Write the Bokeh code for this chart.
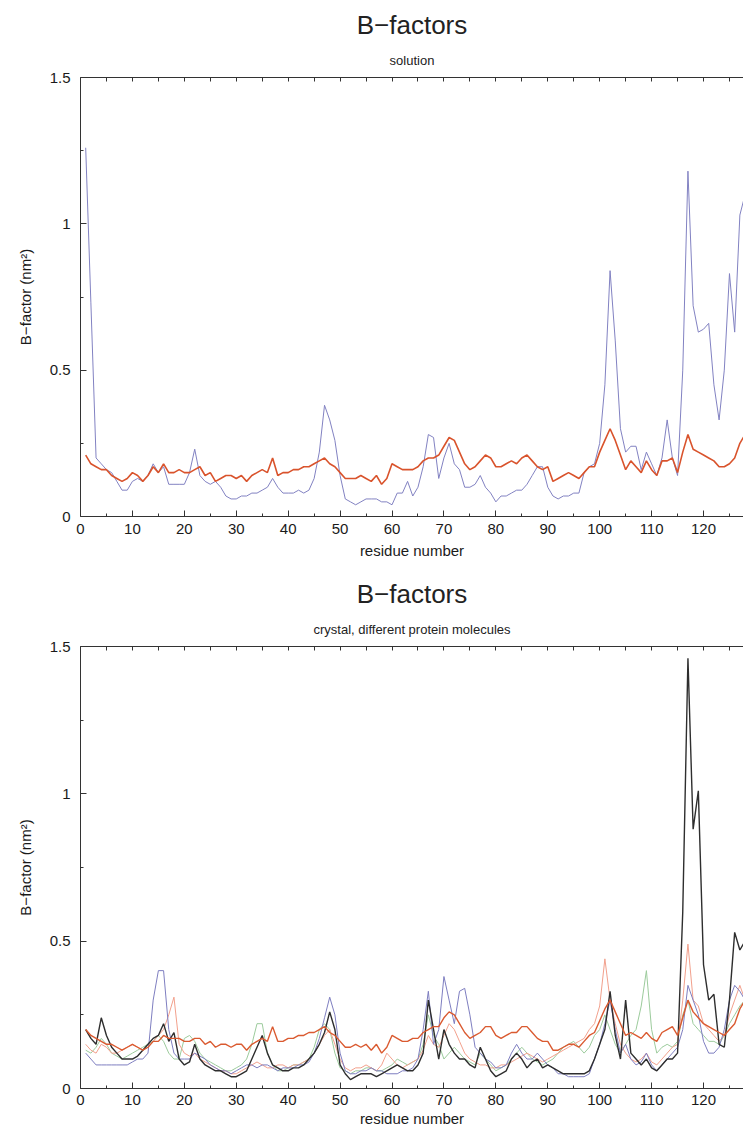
from bokeh.plotting import figure
from bokeh.layouts import column
from bokeh.models import LinearAxis, FixedTicker, Title, Range1d
from bokeh.embed import file_html
from bokeh.resources import INLINE

residues = list(range(1, 129))

# ---- solution ----
solution_blue = [
    1.26, 0.73, 0.20, 0.18, 0.16, 0.15, 0.12, 0.09, 0.09, 0.12,
    0.13, 0.12, 0.14, 0.18, 0.15, 0.17, 0.11, 0.11, 0.11, 0.11,
    0.15, 0.23, 0.14, 0.12, 0.11, 0.12, 0.10, 0.07, 0.06, 0.06,
    0.07, 0.07, 0.08, 0.08, 0.09, 0.10, 0.13, 0.10, 0.08, 0.08,
    0.08, 0.09, 0.08, 0.09, 0.13, 0.22, 0.38, 0.33, 0.26, 0.14,
    0.06, 0.05, 0.04, 0.05, 0.06, 0.06, 0.06, 0.05, 0.05, 0.04,
    0.08, 0.08, 0.12, 0.07, 0.10, 0.17, 0.28, 0.27, 0.13, 0.20,
    0.25, 0.18, 0.16, 0.10, 0.10, 0.11, 0.14, 0.10, 0.08, 0.05,
    0.07, 0.07, 0.08, 0.09, 0.09, 0.11, 0.14, 0.17, 0.17, 0.10,
    0.07, 0.06, 0.07, 0.07, 0.08, 0.08, 0.15, 0.17, 0.18, 0.25,
    0.45, 0.84, 0.60, 0.30, 0.22, 0.24, 0.24, 0.16, 0.22, 0.18,
    0.14, 0.20, 0.33, 0.20, 0.14, 0.50, 1.18, 0.72, 0.63, 0.64,
    0.66, 0.45, 0.33, 0.50, 0.83, 0.63, 1.03, 1.10]

solution_red = [
    0.21, 0.18, 0.17, 0.16, 0.16, 0.14, 0.13, 0.12, 0.13, 0.15,
    0.14, 0.12, 0.14, 0.17, 0.15, 0.18, 0.15, 0.15, 0.16, 0.15,
    0.15, 0.16, 0.17, 0.14, 0.15, 0.12, 0.13, 0.14, 0.14, 0.13,
    0.14, 0.12, 0.14, 0.15, 0.16, 0.15, 0.20, 0.14, 0.15, 0.15,
    0.16, 0.16, 0.17, 0.17, 0.18, 0.19, 0.20, 0.18, 0.17, 0.15,
    0.13, 0.13, 0.13, 0.14, 0.13, 0.12, 0.14, 0.11, 0.13, 0.18,
    0.17, 0.16, 0.16, 0.16, 0.17, 0.19, 0.20, 0.20, 0.21, 0.24,
    0.27, 0.26, 0.22, 0.18, 0.16, 0.17, 0.19, 0.21, 0.20, 0.17,
    0.17, 0.18, 0.19, 0.18, 0.20, 0.21, 0.19, 0.17, 0.16, 0.17,
    0.12, 0.13, 0.14, 0.15, 0.14, 0.13, 0.15, 0.17, 0.17, 0.22,
    0.26, 0.30, 0.26, 0.21, 0.16, 0.19, 0.17, 0.15, 0.19, 0.16,
    0.14, 0.19, 0.19, 0.20, 0.15, 0.22, 0.28, 0.23, 0.22, 0.21,
    0.20, 0.19, 0.17, 0.17, 0.18, 0.20, 0.25, 0.28]

# ---- crystal, different protein molecules ----
crystal_black = [
    0.20, 0.17, 0.15, 0.24, 0.18, 0.14, 0.12, 0.10, 0.10, 0.10,
    0.11, 0.13, 0.15, 0.17, 0.18, 0.22, 0.16, 0.19, 0.10, 0.08,
    0.09, 0.15, 0.10, 0.08, 0.07, 0.06, 0.06, 0.05, 0.04, 0.04,
    0.05, 0.06, 0.10, 0.14, 0.18, 0.12, 0.08, 0.07, 0.06, 0.06,
    0.07, 0.07, 0.08, 0.10, 0.12, 0.15, 0.19, 0.26, 0.20, 0.08,
    0.05, 0.03, 0.04, 0.05, 0.05, 0.05, 0.04, 0.05, 0.06, 0.07,
    0.08, 0.07, 0.06, 0.06, 0.08, 0.12, 0.30, 0.20, 0.10, 0.20,
    0.15, 0.12, 0.10, 0.10, 0.08, 0.07, 0.14, 0.10, 0.06, 0.04,
    0.05, 0.06, 0.10, 0.12, 0.10, 0.07, 0.09, 0.10, 0.07, 0.08,
    0.07, 0.06, 0.05, 0.05, 0.05, 0.05, 0.05, 0.06, 0.10, 0.15,
    0.20, 0.33, 0.18, 0.10, 0.30, 0.12, 0.10, 0.08, 0.10, 0.07,
    0.06, 0.08, 0.10, 0.10, 0.12, 0.60, 1.46, 0.88, 1.01, 0.42,
    0.30, 0.32, 0.15, 0.14, 0.30, 0.53, 0.47, 0.50]

crystal_blue = [
    0.12, 0.10, 0.08, 0.08, 0.08, 0.08, 0.08, 0.08, 0.08, 0.09,
    0.10, 0.10, 0.12, 0.30, 0.40, 0.40, 0.20, 0.12, 0.10, 0.10,
    0.10, 0.12, 0.11, 0.10, 0.08, 0.07, 0.06, 0.06, 0.05, 0.06,
    0.07, 0.08, 0.08, 0.07, 0.08, 0.08, 0.07, 0.06, 0.07, 0.07,
    0.07, 0.08, 0.08, 0.09, 0.12, 0.17, 0.24, 0.31, 0.25, 0.12,
    0.06, 0.05, 0.05, 0.06, 0.06, 0.07, 0.06, 0.06, 0.05, 0.05,
    0.05, 0.06, 0.06, 0.07, 0.10, 0.20, 0.33, 0.15, 0.20, 0.38,
    0.30, 0.22, 0.33, 0.34, 0.25, 0.14, 0.12, 0.10, 0.09, 0.07,
    0.07, 0.08, 0.12, 0.15, 0.12, 0.10, 0.10, 0.12, 0.10, 0.08,
    0.07, 0.05, 0.05, 0.04, 0.04, 0.04, 0.04, 0.05, 0.10, 0.15,
    0.22, 0.30, 0.20, 0.12, 0.15, 0.10, 0.08, 0.09, 0.12, 0.08,
    0.06, 0.08, 0.10, 0.12, 0.14, 0.20, 0.35, 0.30, 0.25, 0.16,
    0.12, 0.12, 0.14, 0.20, 0.30, 0.35, 0.33, 0.30]

crystal_salmon = [
    0.15, 0.13, 0.12, 0.15, 0.14, 0.12, 0.12, 0.13, 0.14, 0.15,
    0.14, 0.13, 0.14, 0.16, 0.18, 0.20, 0.25, 0.31, 0.15, 0.12,
    0.11, 0.12, 0.10, 0.09, 0.08, 0.07, 0.06, 0.06, 0.05, 0.05,
    0.06, 0.07, 0.08, 0.09, 0.08, 0.07, 0.07, 0.08, 0.08, 0.07,
    0.08, 0.08, 0.09, 0.10, 0.12, 0.15, 0.18, 0.20, 0.15, 0.10,
    0.07, 0.06, 0.07, 0.07, 0.08, 0.07, 0.06, 0.08, 0.12, 0.10,
    0.08, 0.07, 0.08, 0.09, 0.10, 0.13, 0.18, 0.15, 0.14, 0.18,
    0.22, 0.20, 0.16, 0.12, 0.10, 0.09, 0.08, 0.08, 0.07, 0.07,
    0.08, 0.08, 0.09, 0.10, 0.11, 0.12, 0.11, 0.10, 0.09, 0.10,
    0.11, 0.12, 0.13, 0.14, 0.15, 0.16, 0.17, 0.20, 0.22, 0.28,
    0.44, 0.30, 0.22, 0.15, 0.12, 0.10, 0.09, 0.10, 0.12, 0.09,
    0.08, 0.10, 0.12, 0.14, 0.15, 0.30, 0.49, 0.30, 0.28, 0.22,
    0.20, 0.18, 0.16, 0.18, 0.25, 0.30, 0.35, 0.30]

crystal_green = [
    0.13, 0.12, 0.14, 0.17, 0.15, 0.12, 0.11, 0.10, 0.11, 0.12,
    0.13, 0.14, 0.15, 0.16, 0.18, 0.16, 0.12, 0.10, 0.10, 0.17,
    0.18, 0.16, 0.12, 0.10, 0.09, 0.08, 0.07, 0.06, 0.06, 0.07,
    0.08, 0.10, 0.15, 0.22, 0.22, 0.12, 0.08, 0.06, 0.06, 0.07,
    0.08, 0.08, 0.09, 0.10, 0.14, 0.20, 0.22, 0.20, 0.12, 0.07,
    0.06, 0.05, 0.06, 0.06, 0.07, 0.07, 0.06, 0.06, 0.07, 0.08,
    0.10, 0.09, 0.08, 0.09, 0.10, 0.15, 0.25, 0.18, 0.15, 0.10,
    0.12, 0.14, 0.12, 0.10, 0.09, 0.08, 0.12, 0.10, 0.08, 0.06,
    0.07, 0.08, 0.10, 0.12, 0.14, 0.12, 0.10, 0.09, 0.08, 0.09,
    0.10, 0.12, 0.14, 0.15, 0.16, 0.14, 0.12, 0.14, 0.18, 0.20,
    0.25, 0.20, 0.15, 0.12, 0.15, 0.18, 0.20, 0.28, 0.40, 0.20,
    0.12, 0.14, 0.15, 0.14, 0.16, 0.25, 0.30, 0.22, 0.20, 0.18,
    0.16, 0.16, 0.15, 0.18, 0.22, 0.25, 0.28, 0.30]

crystal_red = [
    0.20, 0.18, 0.17, 0.16, 0.15, 0.15, 0.14, 0.13, 0.14, 0.15,
    0.14, 0.13, 0.14, 0.16, 0.16, 0.18, 0.17, 0.17, 0.17, 0.16,
    0.16, 0.17, 0.17, 0.15, 0.16, 0.14, 0.15, 0.15, 0.14, 0.15,
    0.15, 0.13, 0.15, 0.16, 0.17, 0.16, 0.21, 0.16, 0.16, 0.17,
    0.17, 0.18, 0.18, 0.19, 0.19, 0.20, 0.21, 0.19, 0.18, 0.16,
    0.14, 0.14, 0.15, 0.14, 0.15, 0.13, 0.15, 0.12, 0.14, 0.18,
    0.17, 0.16, 0.16, 0.17, 0.17, 0.19, 0.20, 0.21, 0.21, 0.24,
    0.26, 0.25, 0.22, 0.19, 0.17, 0.18, 0.19, 0.21, 0.21, 0.18,
    0.17, 0.18, 0.19, 0.19, 0.21, 0.21, 0.19, 0.17, 0.16, 0.16,
    0.13, 0.13, 0.14, 0.15, 0.15, 0.14, 0.16, 0.18, 0.19, 0.23,
    0.27, 0.30, 0.26, 0.22, 0.18, 0.19, 0.18, 0.17, 0.19, 0.17,
    0.16, 0.19, 0.20, 0.21, 0.18, 0.24, 0.30, 0.26, 0.24, 0.22,
    0.21, 0.20, 0.19, 0.18, 0.20, 0.22, 0.27, 0.30]

x_ticks = [0, 10, 20, 30, 40, 50, 60, 70, 80, 90, 100, 110, 120]
x_minor = [5, 15, 25, 35, 45, 55, 65, 75, 85, 95, 105, 115, 125]
y_ticks = [0, 0.5, 1, 1.5]
y_minor = [0.25, 0.75, 1.25]
y_labels = {0: "0", 0.5: "0.5", 1: "1", 1.5: "1.5"}

FONT = "Liberation Sans"
AX = "#333333"


def style_axis(ax):
    ax.axis_line_color = AX
    ax.axis_line_width = 1
    ax.major_tick_line_color = AX
    ax.minor_tick_line_color = AX
    ax.major_tick_in = 6
    ax.major_tick_out = 0
    ax.minor_tick_in = 3
    ax.minor_tick_out = 0
    ax.major_label_text_font = FONT
    ax.major_label_text_font_size = "15px"
    ax.major_label_text_color = "#1a1a1a"
    ax.axis_label_text_font = FONT
    ax.axis_label_text_font_style = "normal"
    ax.axis_label_text_font_size = "15px"
    ax.axis_label_text_color = "#1a1a1a"


def make_fig(main, sub, border_top, frame_h, border_bottom, tick_standoff, label_standoff):
    p = figure(frame_width=663, frame_height=frame_h,
               x_range=Range1d(0, 127.7), y_range=Range1d(0, 1.5),
               output_backend="svg", toolbar_location=None,
               min_border_left=80, min_border_right=0,
               min_border_top=border_top, min_border_bottom=border_bottom)
    p.grid.visible = False
    p.outline_line_color = None
    p.background_fill_color = "white"
    p.border_fill_color = "white"

    xt = FixedTicker(ticks=x_ticks, minor_ticks=x_minor)
    yt = FixedTicker(ticks=y_ticks, minor_ticks=y_minor)
    p.xaxis[0].ticker = xt
    p.yaxis[0].ticker = yt
    p.yaxis[0].major_label_overrides = y_labels
    p.xaxis[0].axis_label = "residue number"
    p.yaxis[0].axis_label = "B\u2212factor (nm\u00b2)"
    for ax in (p.xaxis[0], p.yaxis[0]):
        style_axis(ax)
    p.xaxis[0].major_label_standoff = tick_standoff
    p.xaxis[0].axis_label_standoff = label_standoff
    p.yaxis[0].major_label_standoff = 10
    p.yaxis[0].axis_label_standoff = 13

    # top frame line with inward ticks only (no labels)
    top = LinearAxis(ticker=FixedTicker(ticks=[], minor_ticks=x_ticks + x_minor))
    style_axis(top)
    top.minor_tick_in = 4
    top.major_label_standoff = 0
    p.add_layout(top, "above")

    p.add_layout(Title(text=sub, align="center", text_font=FONT,
                       text_font_size="13px", text_font_style="normal",
                       text_color="#222222", standoff=20), "above")
    p.add_layout(Title(text=main, align="center", text_font=FONT,
                       text_font_size="26px", text_font_style="normal",
                       text_color="#222222", standoff=2), "above")
    return p


p1 = make_fig("B\u2212factors", "solution", 77, 439, 50, 7, 5)
p1.line(residues, solution_blue, line_color="#8282c2", line_width=1)
p1.line(residues, solution_red, line_color="#d9532c", line_width=1.6)

p2 = make_fig("B\u2212factors", "crystal, different protein molecules", 80, 442, 44, 6, 2)
p2.line(residues, crystal_green, line_color="#9ccb9c", line_width=1)
p2.line(residues, crystal_salmon, line_color="#f2a08c", line_width=1)
p2.line(residues, crystal_blue, line_color="#7e7ec0", line_width=1)
p2.line(residues, crystal_black, line_color="#2e2e2e", line_width=1.4)
p2.line(residues, crystal_red, line_color="#da5a30", line_width=1.4)

layout = column(p1, p2, spacing=0)
open("out.html", "w").write(file_html(layout, INLINE))
